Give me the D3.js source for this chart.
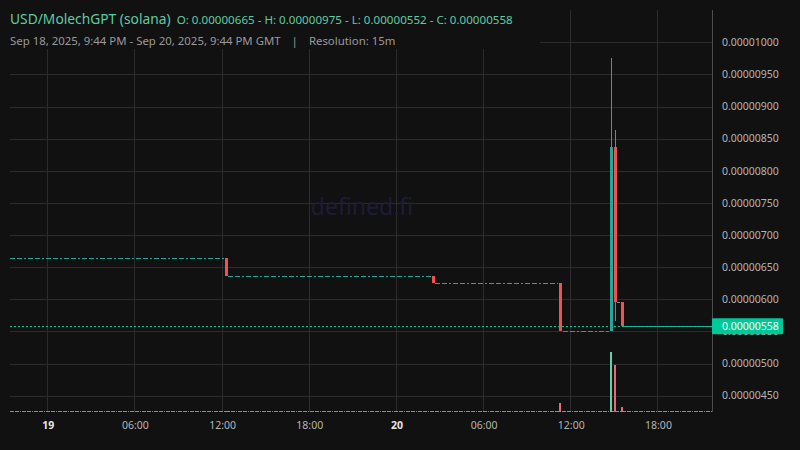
<!DOCTYPE html>
<html><head><meta charset="utf-8">
<script src="https://cdn.jsdelivr.net/npm/d3@7"></script>
<style>
html,body{margin:0;padding:0;background:#111111;}
svg{display:block;font-family:"Noto Sans",sans-serif;}
</style></head>
<body>
<svg id="chart" width="800" height="450"></svg>
<script>
// ---- data ----
const candleTimes = ["2025-09-19T12:15Z","2025-09-20T02:30Z","2025-09-20T11:15Z","2025-09-20T14:45Z","2025-09-20T15:00Z","2025-09-20T15:30Z"];
const opens  = [6.65e-6, 6.37e-6, 6.26e-6, 5.50e-6, 8.37e-6, 5.96e-6];
const highs  = [6.65e-6, 6.37e-6, 6.26e-6, 9.75e-6, 8.63e-6, 5.96e-6];
const lows   = [6.37e-6, 6.26e-6, 5.50e-6, 5.50e-6, 5.67e-6, 5.58e-6];
const closes = [6.37e-6, 6.26e-6, 5.50e-6, 8.37e-6, 5.96e-6, 5.58e-6];
const volumes = [1, 1, 9, 60, 47, 5]; // relative volume (estimated)

// flat (open = close) stretches of 15m candles
const flatStart = ["2025-09-18T21:30Z","2025-09-19T12:30Z","2025-09-20T02:45Z","2025-09-20T11:30Z","2025-09-20T15:15Z","2025-09-20T15:45Z"];
const flatEnd   = ["2025-09-19T12:00Z","2025-09-20T02:15Z","2025-09-20T11:00Z","2025-09-20T14:30Z","2025-09-20T15:15Z","2025-09-20T21:38Z"];
const flatPrice = [6.65e-6, 6.37e-6, 6.26e-6, 5.50e-6, 5.96e-6, 5.58e-6];
const flatKind  = ["up","up","up","dim","gray","solid"];

const lastPrice = 5.58e-6;
const yTicks = [4.5e-6,5.0e-6,5.5e-6,6.0e-6,6.5e-6,7.0e-6,7.5e-6,8.0e-6,8.5e-6,9.0e-6,9.5e-6,1.0e-5];
const xTickTimes  = ["2025-09-19T00:00Z","2025-09-19T06:00Z","2025-09-19T12:00Z","2025-09-19T18:00Z","2025-09-20T00:00Z","2025-09-20T06:00Z","2025-09-20T12:00Z","2025-09-20T18:00Z"];
const xTickLabels = ["19","06:00","12:00","18:00","20","06:00","12:00","18:00"];
const xTickBold   = [true,false,false,false,true,false,false,false];

const titleText = "USD/MolechGPT (solana)";
const ohlcText = "O: 0.00000665 - H: 0.00000975 - L: 0.00000552 - C: 0.00000558";
const rangeText = "Sep 18, 2025, 9:44 PM - Sep 20, 2025, 9:44 PM GMT";
const resText = "Resolution: 15m";

// ---- layout ----
const L = 10, R = 712, T = 10, B = 412;
const UP = "#26a69a", DOWN = "#ef5350", PRICE = "#00c896";
const svg = d3.select("#chart");
svg.append("rect").attr("width",800).attr("height",450).attr("fill","#111111");

const x = d3.scaleUtc()
  .domain([new Date("2025-09-18T21:22:20Z"), new Date("2025-09-20T21:41:00Z")])
  .range([L, R]);
const y = d3.scaleLinear().domain([4.247e-6, 1.0503e-5]).range([B, T]);
const yv = d3.scaleLinear().domain([0, 100]).range([B, B - 100]);

// grid
const g = svg.append("g").attr("shape-rendering","crispEdges");
g.selectAll(".hg").data(yTicks).join("line")
  .attr("x1",L).attr("x2",R).attr("y1",d=>Math.round(y(d))+0.5).attr("y2",d=>Math.round(y(d))+0.5)
  .attr("stroke","#2c2c2c").attr("stroke-width",1);
g.selectAll(".vg").data(xTickTimes).join("line")
  .attr("x1",d=>Math.round(x(new Date(d)))-0.5).attr("x2",d=>Math.round(x(new Date(d)))-0.5)
  .attr("y1",T).attr("y2",B)
  .attr("stroke","#2c2c2c").attr("stroke-width",1);

// watermark
svg.append("text").attr("x",362).attr("y",215).attr("text-anchor","middle")
  .attr("font-size",23).attr("fill","#1e1c36").text("defined.fi");

// volume baseline (tiny volumes of flat candles)
svg.append("line").attr("x1",L).attr("x2",R).attr("y1",B-0.5).attr("y2",B-0.5)
  .attr("stroke","#3bb592").attr("stroke-width",1).attr("shape-rendering","crispEdges")
  .attr("stroke-dasharray","4,1,4,1,1,1");

// volume bars
const cand = candleTimes.map((t,i)=>({t:new Date(t),o:opens[i],h:highs[i],l:lows[i],c:closes[i],v:volumes[i]}));
svg.append("g").attr("shape-rendering","crispEdges").selectAll("rect").data(cand).join("rect")
  .attr("x",d=>Math.round(x(d.t))-1).attr("width",2)
  .attr("y",d=>yv(d.v)).attr("height",d=>B-yv(d.v))
  .attr("fill",d=>d.c>=d.o?"#5bd3ad":"#e8697c");

// flat segments
const flats = flatStart.map((s,i)=>({s:new Date(s),e:new Date(flatEnd[i]),p:flatPrice[i],k:flatKind[i]}));
const fcol = {up:"#26a69a",dim:"#4a8f8b",gray:"#8a8a8a",solid:"#26a69a"};
svg.append("g").attr("shape-rendering","crispEdges").selectAll("line").data(flats).join("line")
  .attr("x1",d=>Math.round(x(d.s)-1.5)).attr("x2",d=>Math.min(R,Math.round(x(d.e)+1.5)))
  .attr("y1",d=>Math.round(y(d.p))+0.5).attr("y2",d=>Math.round(y(d.p))+0.5)
  .attr("stroke",d=>fcol[d.k]).attr("stroke-width",1)
  .attr("stroke-dasharray",d=>d.k==="solid"?null:"5,2,5,2,2,2");

// current price line
svg.append("line").attr("x1",L).attr("x2",R)
  .attr("y1",Math.round(y(lastPrice))+0.5).attr("y2",Math.round(y(lastPrice))+0.5)
  .attr("stroke",PRICE).attr("stroke-width",1).attr("shape-rendering","crispEdges")
  .attr("stroke-dasharray","2,2");

// candles
const cg = svg.append("g").attr("shape-rendering","crispEdges");
cg.selectAll(".wick").data(cand).join("line")
  .attr("x1",d=>Math.round(x(d.t))+0.5).attr("x2",d=>Math.round(x(d.t))+0.5)
  .attr("y1",d=>y(d.h)).attr("y2",d=>y(d.l))
  .attr("stroke",d=>d.c>=d.o?UP:DOWN).attr("stroke-width",1);
cg.selectAll(".body").data(cand).join("rect")
  .attr("x",d=>Math.round(x(d.t))-1).attr("width",3)
  .attr("y",d=>y(Math.max(d.o,d.c))).attr("height",d=>Math.max(1,Math.abs(y(d.o)-y(d.c))))
  .attr("fill",d=>d.c>=d.o?UP:DOWN);

// right axis
svg.append("line").attr("x1",R+0.5).attr("x2",R+0.5).attr("y1",T).attr("y2",B)
  .attr("stroke","#4d4d4d").attr("shape-rendering","crispEdges");
svg.append("g").selectAll("text").data(yTicks).join("text")
  .attr("x",722).attr("y",d=>y(d)).attr("dy","0.35em")
  .attr("font-size",10.5).attr("fill","#b4b4b4").text(d=>d.toFixed(8));

// price label
svg.append("rect").attr("x",R).attr("y",y(lastPrice)-8).attr("width",71).attr("height",16)
  .attr("rx",1).attr("fill",PRICE);
svg.append("text").attr("x",722).attr("y",y(lastPrice)).attr("dy","0.35em")
  .attr("font-size",10.5).attr("fill","#ffffff").text(lastPrice.toFixed(8));

// bottom axis labels
svg.append("g").selectAll("text").data(xTickTimes).join("text")
  .attr("x",d=>x(new Date(d))).attr("y",429).attr("text-anchor","middle")
  .attr("font-size",10.5)
  .attr("font-weight",(d,i)=>xTickBold[i]?"bold":"normal")
  .attr("fill",(d,i)=>xTickBold[i]?"#e6e6e6":"#b4b4b4")
  .text((d,i)=>xTickLabels[i]);

// header
svg.append("rect").attr("x",0).attr("y",0).attr("width",540).attr("height",49).attr("fill","#111111");
const h1 = svg.append("text").attr("x",10).attr("y",24);
h1.append("tspan").attr("font-size",13.8).attr("fill","#5fcba5").text(titleText);
h1.append("tspan").attr("dx",6).attr("font-size",11.6).attr("fill","#5fcba5").text(ohlcText);
const h2 = svg.append("text").attr("x",10).attr("y",45).attr("font-size",11.4).attr("fill","#9a9a9a");
h2.append("tspan").text(rangeText);
h2.append("tspan").attr("dx",11).text("|");
h2.append("tspan").attr("dx",11).text(resText);
</script>
</body></html>
